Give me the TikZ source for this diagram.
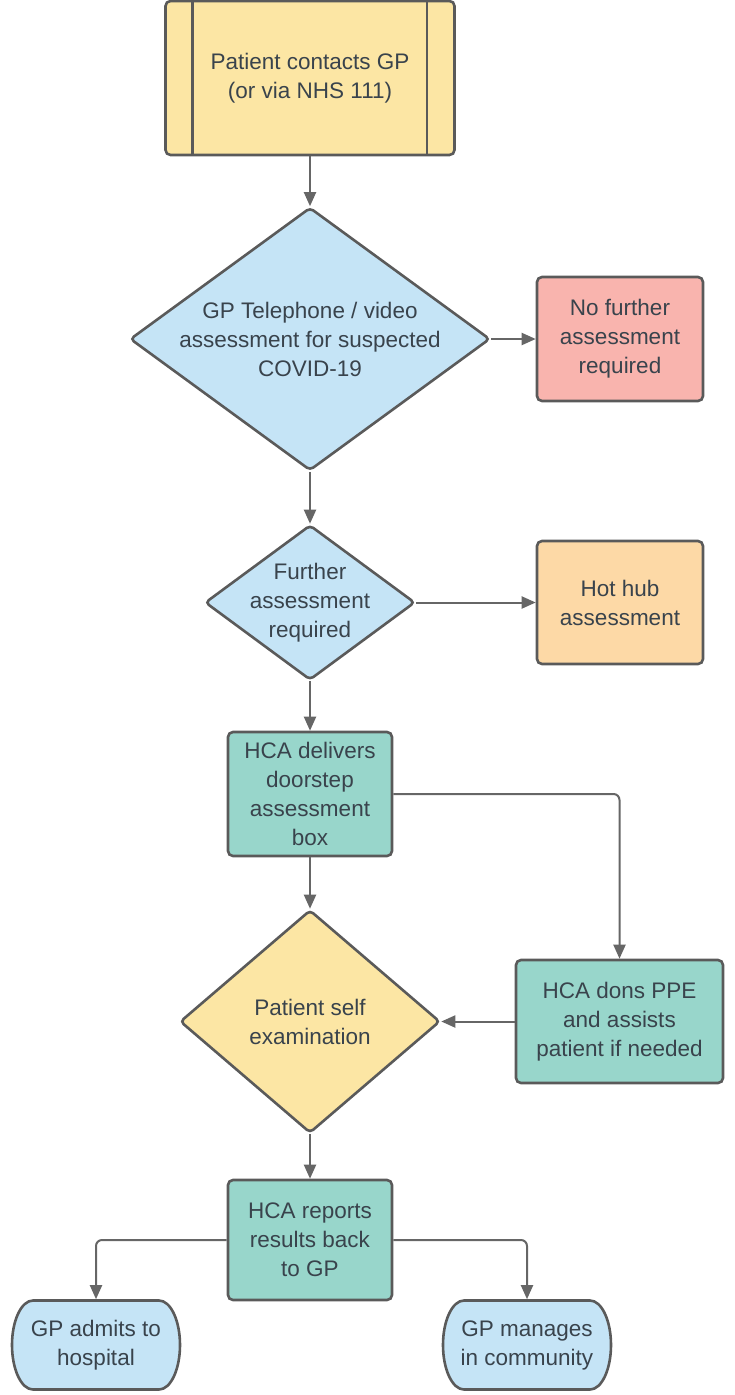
\documentclass[tikz,border=0pt]{standalone}
\usepackage{fontspec}
\setmainfont{Liberation Sans}
\usetikzlibrary{shapes.geometric,arrows.meta}
\definecolor{yelc}{RGB}{252,230,164}
\definecolor{bluc}{RGB}{197,228,246}
\definecolor{redc}{RGB}{249,180,174}
\definecolor{orac}{RGB}{253,217,166}
\definecolor{teac}{RGB}{152,214,203}
\definecolor{bordc}{RGB}{90,90,90}
\definecolor{arrc}{RGB}{102,102,102}
\definecolor{txtc}{RGB}{57,67,76}
\begin{document}
\begin{tikzpicture}[x=1pt,y=-1pt,
  txtfont/.style={font=\fontsize{22.5}{29}\selectfont},
  box/.style={draw=bordc, line width=2.6pt, rounded corners=5pt, inner sep=0pt, text=txtc, align=center, txtfont},
  dia/.style={draw=bordc, line width=2.6pt, diamond, inner sep=0pt, rounded corners=4pt},
  lbl/.style={text=txtc, align=center, inner sep=0pt, txtfont},
  term/.style={rectangle, inner sep=0pt, outer sep=0pt},
  arr/.style={draw=arrc, line width=2pt, -{Triangle[length=14pt,width=12pt]}},
  elbow/.style={arr, rounded corners=6pt}]
\useasboundingbox (0,0) rectangle (734,1395);

% nodes
\node[box, fill=yelc, minimum width=289pt, minimum height=154pt] (start) at (310,78) {Patient contacts GP\\(or via NHS 111)};
\draw[bordc, line width=2.6pt] ([xshift=28pt]start.north west) -- ([xshift=28pt]start.south west);
\draw[bordc, line width=2.6pt] ([xshift=-29pt]start.north east) -- ([xshift=-29pt]start.south east);

\node[dia, fill=bluc, minimum width=360pt, minimum height=263pt] (d1) at (310,339) {};
\node[lbl] (d1t) at (d1) {GP Telephone / video\\assessment for suspected\\COVID-19};

\node[box, fill=redc, minimum width=166pt, minimum height=124pt] (nofur) at (620,339) {No further\\assessment\\required};

\node[dia, fill=bluc, minimum width=210pt, minimum height=155pt] (d2) at (310,602.5) {};
\node[lbl] (d2t) at (d2) {Further\\assessment\\required};

\node[box, fill=orac, minimum width=166pt, minimum height=123pt] (hub) at (620,602.5) {Hot hub\\assessment};

\node[box, fill=teac, minimum width=164pt, minimum height=124pt] (deliv) at (310,794) {HCA delivers\\doorstep\\assessment\\box};

\node[dia, fill=yelc, minimum width=260pt, minimum height=223pt] (d3) at (310,1021.5) {};
\node[lbl] (d3t) at (d3) {Patient self\\examination};

\node[box, fill=teac, minimum width=207pt, minimum height=123pt] (dons) at (619.5,1021.5) {HCA dons PPE\\and assists\\patient if needed};

\node[box, fill=teac, minimum width=164pt, minimum height=120pt] (rep) at (310,1240) {HCA reports\\results back\\to GP};

\node[term, minimum width=126pt, minimum height=89pt] (adm) at (96,1345) {};
\draw[draw=bordc, line width=2.6pt, fill=bluc] (adm.north west) -- (adm.north east)
  arc[start angle=90, end angle=-90, x radius=21pt, y radius=44.5pt] -- (adm.south west)
  arc[start angle=270, end angle=90, x radius=21pt, y radius=44.5pt] -- cycle;
\node[lbl] (admt) at (adm) {GP admits to\\hospital};

\node[term, minimum width=126pt, minimum height=89pt] (man) at (527,1345) {};
\draw[draw=bordc, line width=2.6pt, fill=bluc] (man.north west) -- (man.north east)
  arc[start angle=90, end angle=-90, x radius=21pt, y radius=44.5pt] -- (man.south west)
  arc[start angle=270, end angle=90, x radius=21pt, y radius=44.5pt] -- cycle;
\node[lbl] (mant) at (man) {GP manages\\in community};

% connectors
\draw[arr] (start.south) -- (d1.north);
\draw[arr] (d1.east) -- (nofur.west);
\draw[arr] (d1.south) -- (d2.north);
\draw[arr] (d2.east) -- (hub.west);
\draw[arr] (d2.south) -- (deliv.north);
\draw[arr] (deliv.south) -- (d3.north);
\draw[elbow] (deliv.east) -| (dons.north);
\draw[arr] (dons.west) -- (d3.east);
\draw[arr] (d3.south) -- (rep.north);
\draw[elbow, shorten >=1.3pt] (rep.west) -| (adm.north);
\draw[elbow, shorten >=1.3pt] (rep.east) -| (man.north);
\end{tikzpicture}
\end{document}
